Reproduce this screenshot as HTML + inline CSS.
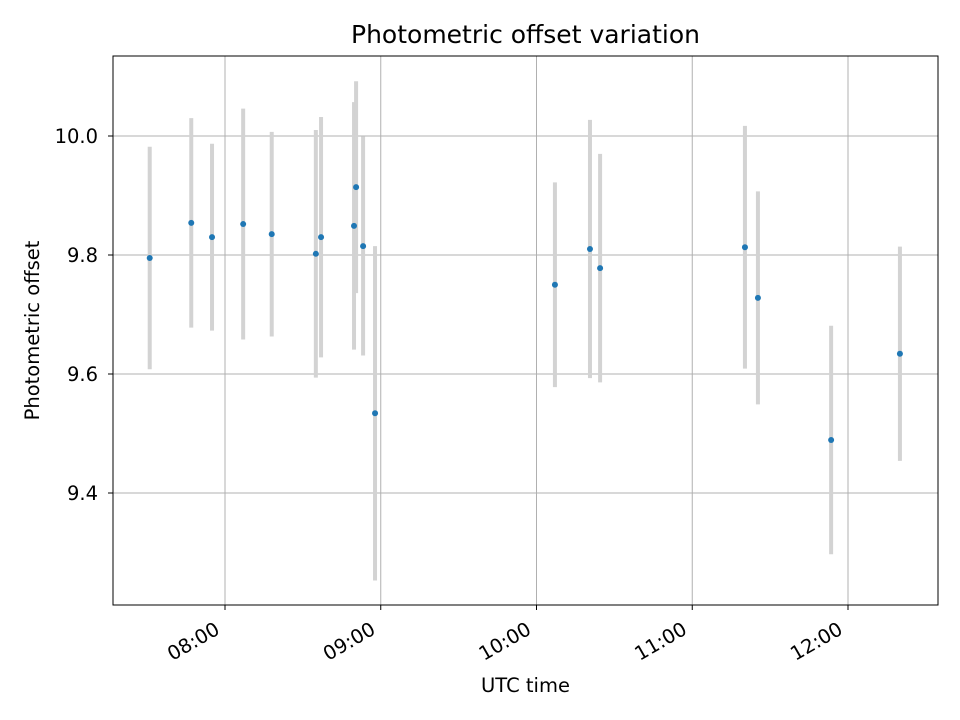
<!DOCTYPE html>
<html><head><meta charset="utf-8"><style>
body{margin:0;background:#fff;}
svg{display:block;font-family:"DejaVu Sans","Liberation Sans",sans-serif;}
</style></head><body>
<svg id="chart" width="960" height="720"></svg>
<script>
const times=["07:31","07:47","07:55","08:07","08:18","08:35","08:37","08:49.7","08:50.5","08:53.2","08:57.8","10:07.1","10:20.6","10:24.5","11:20.3","11:25.3","11:53.5","12:20"];
const values=[9.795,9.854,9.830,9.852,9.835,9.802,9.830,9.849,9.914,9.815,9.534,9.750,9.810,9.778,9.813,9.728,9.489,9.634];
const errors=[0.187,0.176,0.157,0.194,0.172,0.208,0.202,0.208,0.178,0.184,0.281,0.172,0.217,0.192,0.204,0.179,0.192,0.180];
const xTicks=["08:00","09:00","10:00","11:00","12:00"];
const yTicks=[9.4,9.6,9.8,10.0];
const L=113,R=938,T=56,B=605;
const NS="http://www.w3.org/2000/svg";
const svg=document.getElementById('chart');
function mins(s){const p=s.split(':');return +p[0]*60+ +p[1];}
function xs(m){return 225+(m-480)*155.75/60;}
function ys(v){return 136+(10-v)*595;}
function mk(tag,attrs,parent){const e=document.createElementNS(NS,tag);for(const k in attrs)e.setAttribute(k,attrs[k]);(parent||svg).appendChild(e);return e;}
xTicks.forEach(t=>{const x=xs(mins(t));
const g=mk('line',{x1:x,x2:x,y1:T,y2:B,stroke:'#b0b0b0','stroke-width':1});


const tk=mk('line',{x1:x,x2:x,y1:B,y2:B+5,stroke:'#000','stroke-width':1});


const ax=x-4, ay=B+28;
const tx=mk('text',{x:ax,y:ay,'font-size':19.5,'text-anchor':'end',transform:`rotate(-30 ${ax} ${ay})`,fill:'#000'});
tx.textContent=t;


});
yTicks.forEach(v=>{const y=ys(v);
const g=mk('line',{x1:L,x2:R,y1:y,y2:y,stroke:'#b0b0b0','stroke-width':1});


const tk=mk('line',{x1:L-5,x2:L,y1:y,y2:y,stroke:'#000','stroke-width':1});


const tx=mk('text',{x:L-15,y:y+7,'font-size':19.5,'text-anchor':'end',fill:'#000'});
tx.textContent=v.toFixed(1);


});
times.forEach((t,i)=>{const x=xs(mins(t));
const e=mk('line',{x1:x,x2:x,y1:ys(values[i]+errors[i]),y2:ys(values[i]-errors[i]),stroke:'#d3d3d3','stroke-width':4});


});
times.forEach((t,i)=>{
const c=mk('circle',{cx:xs(mins(t)),cy:ys(values[i]),r:3,fill:'#1f77b4'});


});
const f=mk('rect',{x:L,y:T,width:R-L,height:B-T,fill:'none',stroke:'#000','stroke-width':1});


const ti=mk('text',{x:(L+R)/2,y:43,'font-size':25,'text-anchor':'middle'});ti.textContent='Photometric offset variation';


const xl=mk('text',{x:(L+R)/2,y:692,'font-size':19.5,'text-anchor':'middle'});xl.textContent='UTC time';


const yl=mk('text',{x:39,y:(T+B)/2,'font-size':19.5,'text-anchor':'middle',transform:`rotate(-90 39 ${(T+B)/2})`});yl.textContent='Photometric offset';


</script>
</body></html>
